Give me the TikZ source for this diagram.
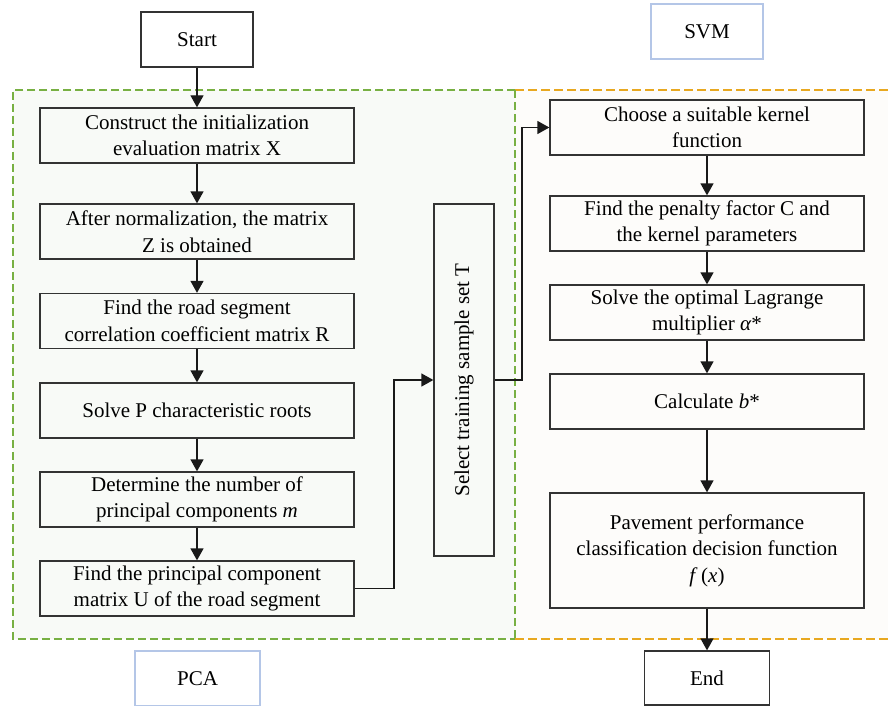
\documentclass[tikz,border=0pt]{standalone}
\usepackage{fontspec}
\setmainfont{Liberation Serif}
\usetikzlibrary{arrows.meta,positioning,calc}
\definecolor{pcagreen}{HTML}{78B043}
\definecolor{svmorange}{HTML}{E8A820}
\definecolor{pcafill}{HTML}{F8FAF7}
\definecolor{svmfill}{HTML}{FDFCFA}
\definecolor{labelblue}{HTML}{B4C6E7}
\definecolor{boxline}{HTML}{333333}
\begin{document}
\begin{tikzpicture}[x=1pt,y=-1pt,
  every node/.style={font=\fontsize{21}{26.5}\selectfont, inner sep=0pt},
  stepbox/.style={draw=boxline, line width=1.3pt, minimum width=314pt, minimum height=55pt, align=center},
  termbox/.style={draw=boxline, line width=1.3pt, fill=white, minimum width=112pt, minimum height=55pt, align=center},
  labelbox/.style={draw=labelblue, line width=1.2pt, fill=white, minimum width=112pt, minimum height=55pt, align=center},
  arr/.style={draw=black!90, line width=1.3pt, -{Triangle[length=12pt,width=13pt]}},
  conn/.style={draw=black!90, line width=1.3pt}
]
\useasboundingbox (0,0) rectangle (888,706);
% region backgrounds
\fill[pcafill] (13,90) rectangle (515,639);
\fill[svmfill] (515,90) rectangle (888,639);
\draw[svmorange, line width=1.4pt, dash pattern=on 9pt off 4pt] (515,90) -- (888,90);
\draw[svmorange, line width=1.4pt, dash pattern=on 9pt off 4pt] (515,639) -- (888,639);
\draw[pcagreen, line width=1.3pt, dash pattern=on 8pt off 4pt] (515,90) -- (13,90) -- (13,639) -- (515,639);
\draw[pcagreen, line width=1.1pt, dash pattern=on 8pt off 4pt] (515,90) -- (515,639);

% terminals and labels
\node[termbox] (start) at (197,39.5) {Start};
\node[labelbox] (svm) at (707,31.5) {SVM};
\node[labelbox, minimum width=125pt] (pca) at (197.5,678.5) {PCA};
\node[termbox, minimum width=125pt, minimum height=54pt] (end) at (707,678) {End};

% PCA column
\node[stepbox] (b1) at (197,135.5) {Construct the initialization\\evaluation matrix X};
\node[stepbox] (b2) at (197,231.5) {After normalization, the matrix\\Z is obtained};
\node[stepbox] (b3) at (197,321) {Find the road segment\\correlation coefficient matrix R};
\node[stepbox] (b4) at (197,410.5) {Solve P characteristic roots};
\node[stepbox] (b5) at (197,499.5) {Determine the number of\\principal components \textit{m}};
\node[stepbox] (b6) at (197,588.5) {Find the principal component\\matrix U of the road segment};

% middle
\node[draw=boxline, line width=1.3pt, minimum width=352pt, minimum height=60pt, rotate=90] (sel) at (464,380) {Select training sample set T};

% SVM column
\node[stepbox] (r1) at (707,127.5) {Choose a suitable kernel\\function};
\node[stepbox] (r2) at (707,223.5) {Find the penalty factor C and\\the kernel parameters};
\node[stepbox] (r3) at (707,312.5) {Solve the optimal Lagrange\\multiplier \textit{α}*};
\node[stepbox] (r4) at (707,401.5) {Calculate \textit{b}*};
\node[stepbox, minimum height=115pt] (r5) at (707,550.5) {Pavement performance\\classification decision function\\\textit{f}\,(\textit{x})};

% connectors
\draw[arr] (start) -- (b1);
\draw[arr] (b1) -- (b2);
\draw[arr] (b2) -- (b3);
\draw[arr] (b3) -- (b4);
\draw[arr] (b4) -- (b5);
\draw[arr] (b5) -- (b6);
\coordinate (j1) at (394,588.5);
\coordinate (j2) at (522,380);
\draw[arr] (b6.east) -- (j1) |- (sel.north);
\draw[arr] (sel.south) -- (j2) |- (r1.west);
\draw[arr] (r1) -- (r2);
\draw[arr] (r2) -- (r3);
\draw[arr] (r3) -- (r4);
\draw[arr] (r4) -- (r5);
\draw[arr] (r5) -- (end);
\end{tikzpicture}
\end{document}
